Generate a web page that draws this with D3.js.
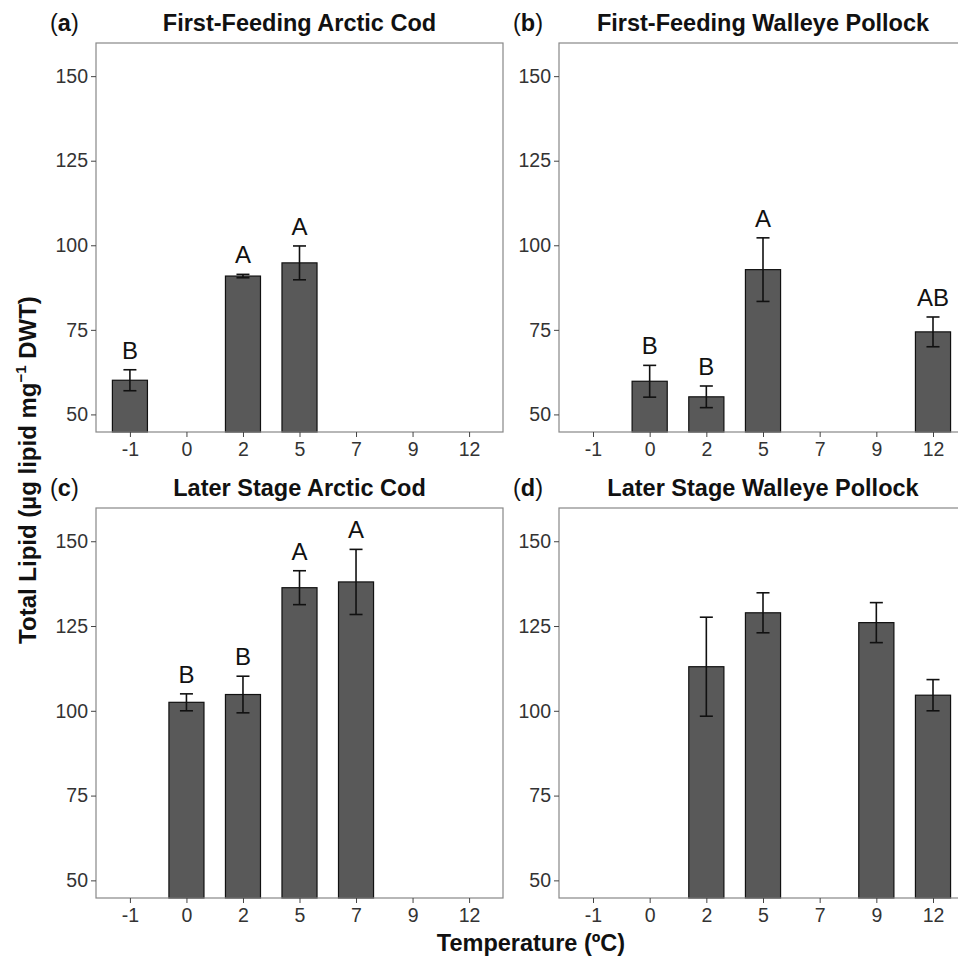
<!DOCTYPE html>
<html>
<head>
<meta charset="utf-8">
<script src="https://cdn.jsdelivr.net/npm/d3@7/dist/d3.min.js"></script>
<style>
	body { margin: 0; background: #fff; }
	svg { display: block; font-family: "Liberation Sans", Arial, Helvetica, sans-serif; }
	.tick text { fill: #333; font-size: 19.5px; }
	.tick line { stroke: #444; }
	.domain { display: none; }
</style>
</head>
<body>
<div id="chart"></div>
<script>
// Data =============================================================
var temps = ["-1", "0", "2", "5", "7", "9", "12"];
var yTicks = [50, 75, 100, 125, 150];

// (a) first-feeding arctic cod
var ffCodTemp = ["-1", "2", "5"];
var ffCodMean = [60.1, 90.9, 94.8];
var ffCodSE = [3.1, 0.5, 5.0];
var ffCodLetter = ["B", "A", "A"];

// (b) first-feeding walleye pollock
var ffPolTemp = ["0", "2", "5", "12"];
var ffPolMean = [59.8, 55.2, 92.8, 74.4];
var ffPolSE = [4.7, 3.2, 9.4, 4.4];
var ffPolLetter = ["B", "B", "A", "AB"];

// (c) later stage arctic cod
var lsCodTemp = ["0", "2", "5", "7"];
var lsCodMean = [102.5, 104.8, 136.3, 138.0];
var lsCodSE = [2.5, 5.4, 5.0, 9.6];
var lsCodLetter = ["B", "B", "A", "A"];

// (d) later stage walleye pollock
var lsPolTemp = ["2", "5", "9", "12"];
var lsPolMean = [113.0, 128.9, 126.0, 104.6];
var lsPolSE = [14.6, 5.9, 5.9, 4.6];
var lsPolLetter = [];

var W = 958, H = 959;

var panels = [
	{ tag: "a", title: "First-Feeding Arctic Cod", x0: 96, x1: 503, y0: 43, y1: 432,
	  temp: ffCodTemp, mean: ffCodMean, se: ffCodSE, letter: ffCodLetter },
	{ tag: "b", title: "First-Feeding Walleye Pollock", x0: 559, x1: 967, y0: 43, y1: 432,
	  temp: ffPolTemp, mean: ffPolMean, se: ffPolSE, letter: ffPolLetter },
	{ tag: "c", title: "Later Stage Arctic Cod", x0: 96, x1: 503, y0: 508, y1: 898,
	  temp: lsCodTemp, mean: lsCodMean, se: lsCodSE, letter: lsCodLetter },
	{ tag: "d", title: "Later Stage Walleye Pollock", x0: 559, x1: 967, y0: 508, y1: 898,
	  temp: lsPolTemp, mean: lsPolMean, se: lsPolSE, letter: lsPolLetter }
];

var svg = d3.select("#chart").append("svg")
	.attr("width", W)
	.attr("height", H);

// Panels =============================================================
panels.forEach(function (p) {
	var x = d3.scalePoint().domain(temps).range([p.x0, p.x1]).padding(0.6);
	var y = d3.scaleLinear().domain([44.8, 159.8]).range([p.y1, p.y0]);
	var barW = x.step() * 0.62;
	var capW = x.step() * 0.23;

	var rows = p.temp.map(function (t, i) {
		return { t: t, m: p.mean[i], se: p.se[i], lab: p.letter[i] };
	});

	var g = svg.append("g");

	// bars
	g.selectAll("rect.bar").data(rows).enter().append("rect")
		.attr("class", "bar")
		.attr("x", function (d) { return x(d.t) - barW / 2; })
		.attr("y", function (d) { return y(d.m); })
		.attr("width", barW)
		.attr("height", function (d) { return p.y1 - y(d.m); })
		.attr("fill", "#595959")
		.attr("stroke", "#111")
		.attr("stroke-width", 1.2);

	// error bars
	var eb = g.selectAll("g.err").data(rows).enter().append("g")
		.attr("stroke", "#111")
		.attr("stroke-width", 1.6);
	eb.append("line")
		.attr("x1", function (d) { return x(d.t); })
		.attr("x2", function (d) { return x(d.t); })
		.attr("y1", function (d) { return y(d.m + d.se); })
		.attr("y2", function (d) { return y(d.m - d.se); });
	eb.append("line")
		.attr("x1", function (d) { return x(d.t) - capW / 2; })
		.attr("x2", function (d) { return x(d.t) + capW / 2; })
		.attr("y1", function (d) { return y(d.m + d.se); })
		.attr("y2", function (d) { return y(d.m + d.se); });
	eb.append("line")
		.attr("x1", function (d) { return x(d.t) - capW / 2; })
		.attr("x2", function (d) { return x(d.t) + capW / 2; })
		.attr("y1", function (d) { return y(d.m - d.se); })
		.attr("y2", function (d) { return y(d.m - d.se); });

	// significance letters
	g.selectAll("text.lab").data(rows.filter(function (d) { return d.lab; })).enter().append("text")
		.attr("x", function (d) { return x(d.t); })
		.attr("y", function (d) { return y(d.m + d.se) - 11; })
		.attr("text-anchor", "middle")
		.attr("font-size", 24)
		.attr("fill", "#111")
		.text(function (d) { return d.lab; });

	// panel border
	g.append("rect")
		.attr("x", p.x0).attr("y", p.y0)
		.attr("width", p.x1 - p.x0).attr("height", p.y1 - p.y0)
		.attr("fill", "none")
		.attr("stroke", "#888")
		.attr("stroke-width", 1.2);

	// axes
	g.append("g")
		.attr("transform", "translate(" + p.x0 + ",0)")
		.call(d3.axisLeft(y).tickValues(yTicks).tickSize(5).tickPadding(3));
	g.append("g")
		.attr("transform", "translate(0," + p.y1 + ")")
		.call(d3.axisBottom(x).tickSize(5).tickPadding(5));

	// titles
	g.append("text")
		.attr("x", (p.x0 + p.x1) / 2)
		.attr("y", p.y0 - 12)
		.attr("text-anchor", "middle")
		.attr("font-size", 23.5)
		.attr("font-weight", "bold")
		.attr("fill", "#111")
		.text(p.title);

	var tag = g.append("text")
		.attr("x", 50 + (p.x0 - 96))
		.attr("y", p.y0 - 12)
		.attr("font-size", 23.5)
		.attr("fill", "#111");
	tag.append("tspan").text("(");
	tag.append("tspan").attr("font-weight", "bold").text(p.tag);
	tag.append("tspan").text(")");
});

// Axis titles =============================================================
var yt = svg.append("text")
	.attr("transform", "translate(36,470) rotate(-90)")
	.attr("text-anchor", "middle")
	.attr("font-size", 24)
	.attr("font-weight", "bold")
	.attr("fill", "#111");
yt.append("tspan").text("Total Lipid (\u00b5g lipid mg");
yt.append("tspan").attr("font-size", 15).attr("dy", -10).text("\u22121");
yt.append("tspan").attr("dy", 10).text(" DWT)");

svg.append("text")
	.attr("x", 531)
	.attr("y", 951)
	.attr("text-anchor", "middle")
	.attr("font-size", 23.5)
	.attr("font-weight", "bold")
	.attr("fill", "#111")
	.text("Temperature (\u00baC)");
</script>
</body>
</html>
